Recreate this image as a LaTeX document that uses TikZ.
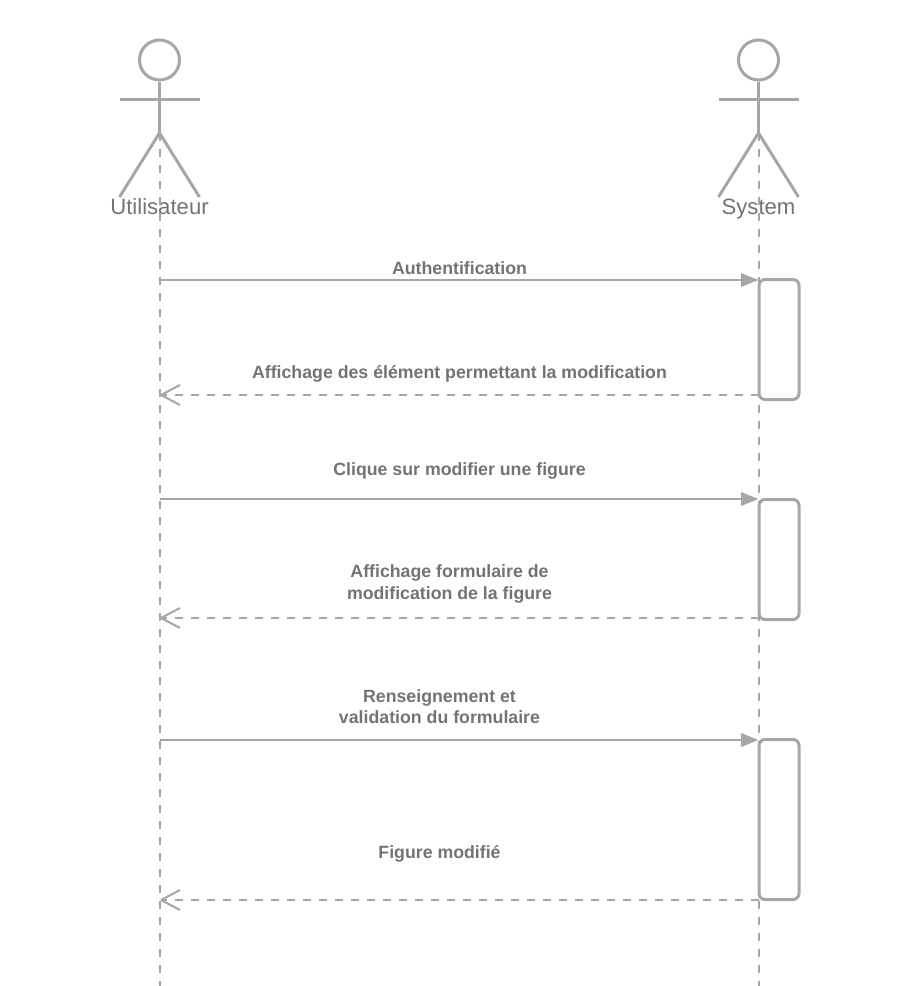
\documentclass[tikz,border=0pt]{standalone}
\usepackage{fontspec}
\setmainfont{Liberation Sans}
\usetikzlibrary{arrows.meta}
\definecolor{umlline}{HTML}{A6A6A6}
\definecolor{umltext}{HTML}{737373}
\tikzset{
  figure/.style={draw=umlline,line width=2.25pt},
  lifeline/.style={draw=umlline,line width=1.5pt,dash pattern=on 6pt off 6pt},
  activation/.style={draw=umlline,line width=2.25pt,rounded corners=4.5pt,minimum width=30pt,inner sep=0pt,fill=white},
  callmsg/.style={draw=umlline,line width=1.5pt,-{Triangle[length=13pt,width=10pt,fill=umlline]}},
  replymsg/.style={draw=umlline,line width=1.5pt,dash pattern=on 6pt off 6pt},
  chevron/.style={draw=umlline,line width=1.5pt,line join=bevel},
  msglabel/.style={text=umltext,font=\fontsize{13.3pt}{15.9pt}\selectfont\bfseries,align=center,inner sep=0pt},
  actorlabel/.style={text=umltext,font=\fontsize{16.6pt}{18pt}\selectfont,inner sep=0pt,anchor=base},
  head/.style={draw=umlline,line width=2.25pt,circle,minimum size=30pt,inner sep=0pt}
}
\newcommand{\stickman}[2]{%
  \node[head] (#1head) at (#2,60) {};
  \coordinate (#1hip) at (#2,133);
  \coordinate (#1armL) at ({#2-40},99);
  \coordinate (#1armR) at ({#2+40},99);
  \coordinate (#1footL) at ({#2-40},197);
  \coordinate (#1footR) at ({#2+40},197);
  \coordinate (#1end) at (#2,986);
  \draw[figure] (#1head.south) -- (#1hip);
  \draw[figure] (#1armL) -- (#1armR);
  \draw[figure] (#1footL) -- (#1hip) -- (#1footR);
}
\begin{document}
\begin{tikzpicture}[x=0.75pt,y=-0.75pt]
\useasboundingbox (0,0) rectangle (920,986);
\stickman{u}{159.5}
\stickman{s}{758.5}
\node[actorlabel] (ulabel) at (159.5,214) {Utilisateur};
\node[actorlabel] (slabel) at (758.5,214) {System};
\draw[lifeline] (uhip) -- (uend);
\draw[lifeline] (ship) -- (send);
% activations
\node[activation,minimum height=90pt] (a1) at (779,339.5) {};
\node[activation,minimum height=90pt] (a2) at (779,559.5) {};
\node[activation,minimum height=120pt] (a3) at (779,819.5) {};
% anchors on lifelines
\coordinate (u1) at (159.5,280); \coordinate (s1) at (758.5,280);
\coordinate (s2) at (758.5,395); \coordinate (u2) at (161,395);
\coordinate (u3) at (159.5,499); \coordinate (s3) at (758.5,499);
\coordinate (s4) at (758.5,618); \coordinate (u4) at (161,618);
\coordinate (u5) at (159.5,740); \coordinate (s5) at (758.5,740);
\coordinate (s6) at (758.5,900); \coordinate (u6) at (161,900);
\draw[callmsg] (u1) -- (s1);
\draw[callmsg] (u3) -- (s3);
\draw[callmsg] (u5) -- (s5);
\foreach \a/\b in {s2/u2,s4/u4,s6/u6}{
  \draw[replymsg] (\a) -- (\b);
  \draw[chevron] ([shift={(19,-10)}]\b) -- (\b) -- ([shift={(19,10)}]\b);
}
\node[msglabel] (m1) at (459.5,268.5) {Authentification};
\node[msglabel] (m2) at (459.5,373.5) {Affichage des élément permettant la modification};
\node[msglabel] (m3) at (459.5,470.5) {Clique sur modifier une figure};
\node[msglabel] (m4) at (449.5,584) {Affichage formulaire de\\modification de la figure};
\node[msglabel] (m5) at (439.5,707) {Renseignement et\\validation du formulaire};
\node[msglabel] (m6) at (439.5,853.5) {Figure modifié};
\end{tikzpicture}
\end{document}
